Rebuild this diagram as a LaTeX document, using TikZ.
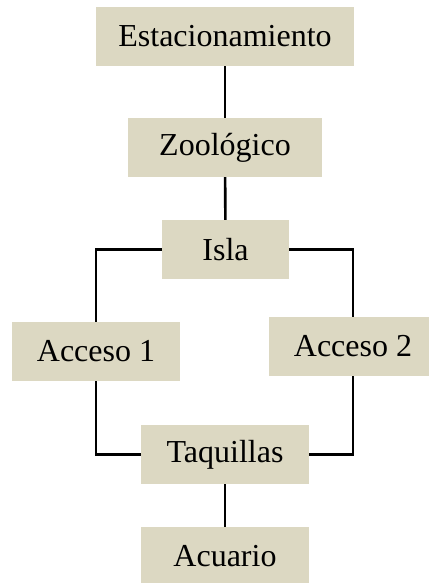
\documentclass[tikz,border=0pt]{standalone}
\usepackage{fontspec}
\setmainfont{Liberation Serif}
\definecolor{boxfill}{RGB}{220,216,194}
\begin{document}
\begin{tikzpicture}[x=1pt,y=1pt,
  box/.style={fill=boxfill,draw=none,inner sep=0pt,minimum height=59pt,
    font=\fontsize{32}{36}\selectfont},
  link/.style={line width=2.6pt}]
\useasboundingbox (0,0) rectangle (428,-583);
\node[box,minimum width=258pt] (est) at (225,-36.5) {Estacionamiento};
\node[box,minimum width=194pt] (zoo) at (225,-147.5) {Zoológico};
\node[box,minimum width=127pt] (isla) at (225.5,-249.5) {Isla};
\node[box,minimum width=168pt] (acc1) at (96,-351.5) {Acceso 1};
\node[box,minimum width=168pt] (acc2) at (353,-346.5) {Acceso 2};
\node[box,minimum width=168pt] (taq) at (225,-454.5) {Taquillas};
\node[box,minimum width=168pt] (acu) at (225,-556.5) {Acuario};
\draw[link] (est) -- (zoo);
\draw[link] (zoo) -- (isla);
\draw[link] (isla.west) -| (acc1.north);
\draw[link] (isla.east) -| (acc2.north);
\draw[link] (acc1.south) |- (taq.west);
\draw[link] (acc2.south) |- (taq.east);
\draw[link] (taq) -- (acu);
\end{tikzpicture}
\end{document}
